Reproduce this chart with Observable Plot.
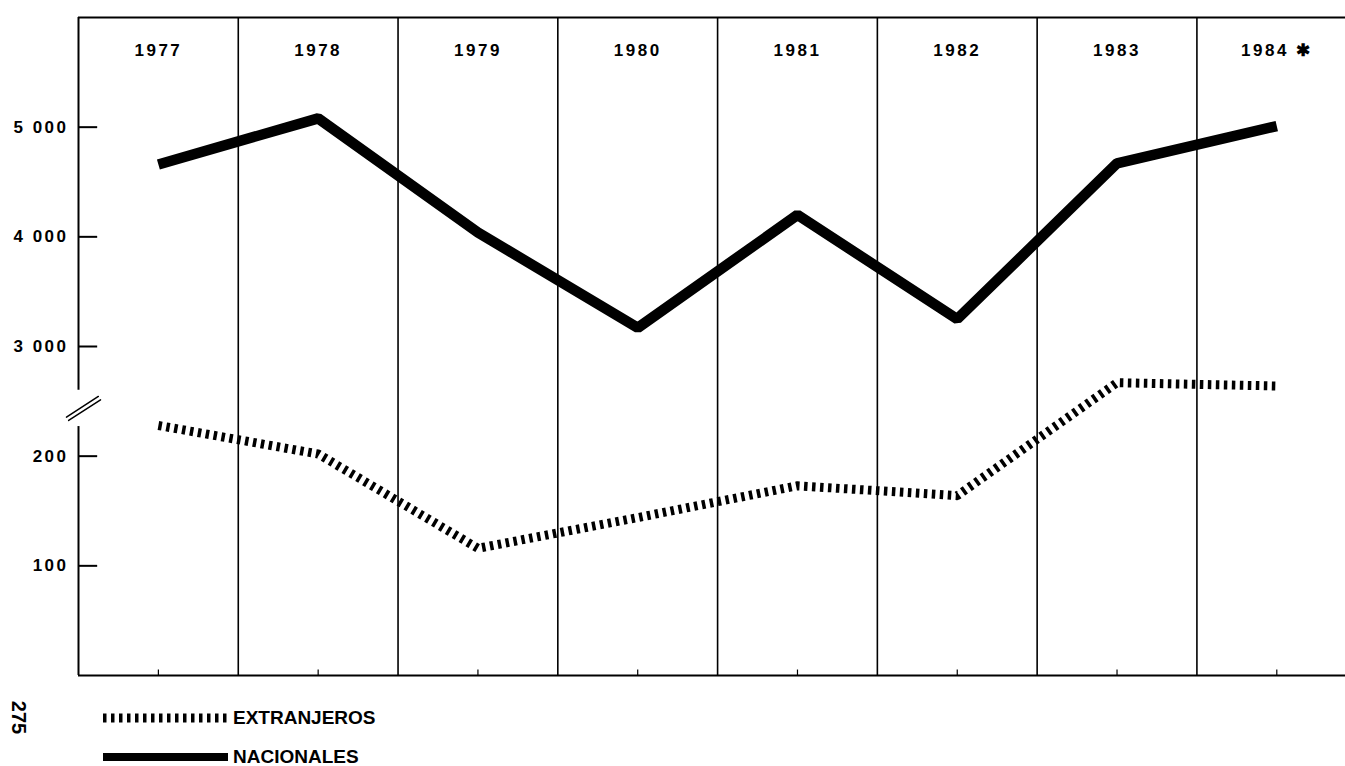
<!DOCTYPE html>
<html>
<head>
<meta charset="utf-8">
<script src="https://cdn.jsdelivr.net/npm/d3@7"></script>
<script src="https://cdn.jsdelivr.net/npm/@observablehq/plot@0.6"></script>
<style>
  html, body { margin: 0; padding: 0; background: #fff; }
  #wrap { position: relative; width: 1345px; height: 766px; overflow: hidden; font-family: "Liberation Sans", Arial, sans-serif; }
  #chart svg { display: block; }
  .leg { position: absolute; left: 103px; display: flex; align-items: center; font-weight: bold; font-size: 19px; color: #000; }
  .leg svg { display: block; margin-right: 5px; }
  #page { position: absolute; left: 2px; top: 706px; font-weight: bold; font-size: 20px; transform: rotate(90deg); transform-origin: center; }
</style>
</head>
<body>
<div id="wrap">
  <div id="chart"></div>
  <div class="leg" style="top:706px"><svg width="125" height="24"><line x1="0" y1="12" x2="125" y2="12" stroke="#000" stroke-width="9" stroke-dasharray="3.5,4.5"/></svg>EXTRANJEROS</div>
  <div class="leg" style="top:745px"><svg width="125" height="24"><line x1="0" y1="12" x2="125" y2="12" stroke="#000" stroke-width="8"/></svg>NACIONALES</div>
  <div id="page">275</div>
</div>
<script>
// ---- data ----
const years = [1977, 1978, 1979, 1980, 1981, 1982, 1983, 1984];
const yearLabels = ["1977", "1978", "1979", "1980", "1981", "1982", "1983", "1984 ✱"];
const nacionales = [4660, 5080, 4040, 3170, 4200, 3250, 4670, 5010];
const extranjeros = [228, 202, 116, 144, 173, 164, 267, 264];
// broken axis: lower part in hundreds (extranjeros), upper part in thousands (nacionales)
const yTickValues = [1, 2, 3, 4, 5];
const yTickLabels = ["100", "200", "3 000", "4 000", "5 000"];
const axisBreak = [2.27, 2.6];

const nacData = years.map((y, i) => ({year: y, v: nacionales[i] / 1000}));
const extData = years.map((y, i) => ({year: y, v: extranjeros[i] / 100}));
const xDomain = [1976.5, 1984.43];
const yDomain = [0, 6];
const boundaries = years.slice(0, -1).map(y => y + 0.5);
const axisSegments = [{y1: yDomain[0], y2: axisBreak[0]}, {y1: axisBreak[1], y2: yDomain[1]}];
const tickLen = 0.12; // inner tick length in x units

const breakShape = {
  draw(context, l) {
    context.moveTo(-2, 0); context.lineTo(-2, -l);
    context.moveTo(2, 0); context.lineTo(2, -l);
  }
};

const chart = Plot.plot({
  width: 1345,
  height: 700,
  marginLeft: 78,
  marginRight: 0,
  marginTop: 17,
  marginBottom: 25,
  x: {domain: xDomain, axis: null},
  y: {domain: yDomain, axis: null},
  style: {fontFamily: "Liberation Sans, Arial, sans-serif", background: "#fff", color: "#000"},
  marks: [
    Plot.ruleX(boundaries, {x: d => d, y1: yDomain[0], y2: yDomain[1], stroke: "#000", strokeWidth: 1.6}),
    Plot.ruleY(yDomain, {y: d => d, stroke: "#000", strokeWidth: 1.8}),
    Plot.ruleX(axisSegments, {x: xDomain[0], y1: "y1", y2: "y2", stroke: "#000", strokeWidth: 2}),
    Plot.ruleX(years, {x: d => d, y1: 0, y2: 0.05, stroke: "#000", strokeWidth: 1.2}),
    Plot.ruleY(yTickValues, {y: d => d, x1: xDomain[0], x2: xDomain[0] + tickLen, stroke: "#000", strokeWidth: 2}),
    Plot.vector([(axisBreak[0] + axisBreak[1]) / 2], {
      x: xDomain[0], y: d => d, dx: 5, length: 38, rotate: 57, anchor: "middle",
      shape: breakShape, stroke: "#000", strokeWidth: 1.5
    }),
    Plot.axisY({
      ticks: yTickValues, tickSize: 0, tickPadding: 10,
      tickFormat: (d) => yTickLabels[yTickValues.indexOf(d)],
      fontSize: 17, fontWeight: "bold"
    }),
    Plot.text(years, {
      x: d => d, y: 5.7, text: (d, i) => yearLabels[i],
      fontSize: 17, fontWeight: "bold", fill: "#000"
    }),
    Plot.line(nacData, {x: "year", y: "v", stroke: "#000", strokeWidth: 10.5, strokeLinejoin: "miter", strokeLinecap: "butt"}),
    Plot.line(extData, {x: "year", y: "v", stroke: "#000", strokeWidth: 9, strokeDasharray: "3.5,4.5", strokeLinejoin: "round", strokeLinecap: "butt"})
  ]
});
chart.querySelectorAll("text").forEach(t => t.style.letterSpacing = "2.5px");
document.getElementById("chart").appendChild(chart);
</script>
</body>
</html>
